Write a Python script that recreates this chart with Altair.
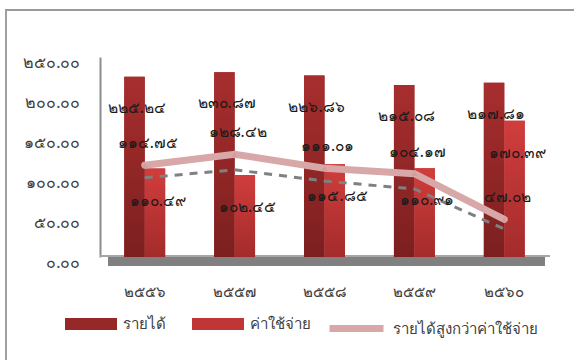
import altair as alt
import pandas as pd

years = ["๒๕๕๖", "๒๕๕๗", "๒๕๕๘", "๒๕๕๙", "๒๕๖๐"]
revenue = [225.24, 230.87, 226.86, 215.08, 217.81]
expense = [110.49, 102.45, 115.85, 110.91, 170.39]
surplus = [114.75, 128.42, 111.01, 104.17, 47.02]
trend = [99, 109, 95, 85, 35]

S_REV = "รายได้"
S_EXP = "ค่าใช้จ่าย"
S_SUR = "รายได้สูงกว่าค่าใช้จ่าย"

TH = str.maketrans("0123456789", "๐๑๒๓๔๕๖๗๘๙")


def th(v):
    return f"{v:.2f}".translate(TH)


rows = []
for y, r, e in zip(years, revenue, expense):
    rows.append({"year": y, "series": S_REV, "value": r, "label": th(r)})
    rows.append({"year": y, "series": S_EXP, "value": e, "label": th(e)})
bars_df = pd.DataFrame(rows)
line_df = pd.DataFrame({
    "year": years,
    "series": [S_SUR] * len(years),
    "value": surplus,
    "label": [th(v) for v in surplus],
})
trend_df = pd.DataFrame({"year": years, "value": trend})

FONT = "Noto Sans"
xenc = alt.X("year:N", sort=years,
             scale=alt.Scale(paddingInner=0.545, paddingOuter=0.27),
             axis=alt.Axis(title=None, labelAngle=0, ticks=False, domain=False,
                           labelPadding=27, labelFontSize=15, labelColor="#404040",
                           labelFont=FONT))
yscale = alt.Scale(domain=[0, 250], nice=False)
label_expr = "format(datum.value, '.2f')"
for d, t in zip("0123456789", "๐๑๒๓๔๕๖๗๘๙"):
    label_expr = f"replace({label_expr}, regexp('{d}', 'g'), '{t}')"
yaxis = alt.Axis(title=None, values=[0, 50, 100, 150, 200, 250], grid=False,
                 ticks=False, domainColor="#8c8c8c", domainWidth=2,
                 labelPadding=20, labelFontSize=16, labelColor="#404040",
                 labelFont=FONT, labelOffset=5, labelExpr=label_expr)
yenc = alt.Y("value:Q", scale=yscale, axis=yaxis)
xoff = alt.XOffset("series:N", sort=[S_REV, S_EXP],
                   scale=alt.Scale(domain=[S_REV, S_EXP], paddingInner=0, paddingOuter=0))

base_bars = alt.Chart(bars_df)

legend_bars = base_bars.mark_bar().encode(
    x=xenc, y=yenc, xOffset=xoff,
    fill=alt.Fill("series:N", sort=[S_REV, S_EXP],
                  scale=alt.Scale(domain=[S_REV, S_EXP], range=["#962828", "#c03636"]),
                  legend=alt.Legend(title=None, orient="none", legendX=-35, legendY=241,
                                    direction="horizontal",
                                    symbolType="M-1,-0.23H1V0.23H-1Z", symbolSize=2704,
                                    symbolStrokeWidth=0,
                                    labelFontSize=15, labelFont=FONT, labelColor="#404040",
                                    labelOffset=6, columnPadding=26)),
)


def grad(top, bottom):
    return alt.Gradient(gradient="linear",
                        stops=[alt.GradientStop(color=top, offset=0),
                               alt.GradientStop(color=bottom, offset=1)],
                        x1=0, x2=0, y1=0, y2=1)


rev_bars = base_bars.transform_filter(alt.datum.series == S_REV).mark_bar(
    color=grad("#a82e2e", "#7c1f1f")).encode(x=xenc, y=yenc, xOffset=xoff)
exp_bars = base_bars.transform_filter(alt.datum.series == S_EXP).mark_bar(
    color=grad("#d13d3d", "#a42b2b")).encode(x=xenc, y=yenc, xOffset=xoff)

rev_text = base_bars.transform_filter(alt.datum.series == S_REV).mark_text(
    dx=-8, dy=31, fontSize=15.5, font=FONT, color="#1a1a1a").encode(
    x=xenc, y=yenc, text="label:N")
exp_text = base_bars.transform_filter(alt.datum.series == S_EXP).mark_text(
    dx=13, dy=32, fontSize=15.5, font=FONT, color="#1a1a1a").encode(
    x=xenc, y=yenc, text="label:N")

trend_line = alt.Chart(trend_df).mark_line(color="#808080", strokeWidth=3,
                                           strokeDash=[8, 7]).encode(x=xenc, y=yenc)

base_line = alt.Chart(line_df)
sur_line = base_line.mark_line(strokeWidth=7, strokeCap="round").encode(
    x=xenc, y=yenc,
    stroke=alt.Stroke("series:N",
                      scale=alt.Scale(domain=[S_SUR], range=["#d8a7a7"]),
                      legend=alt.Legend(title=None, orient="none", legendX=226, legendY=241,
                                        symbolType="stroke", symbolSize=2916,
                                        symbolStrokeWidth=7,
                                        labelFontSize=15, labelFont=FONT,
                                        labelColor="#404040", labelOffset=6)),
)
sur_pts = base_line.mark_point(shape="triangle-up", size=30, filled=True,
                               color="#c99a9a").encode(x=xenc, y=yenc)
sur_text = base_line.mark_text(dx=3, dy=-22, fontSize=15.5, font=FONT,
                               color="#1a1a1a").encode(x=xenc, y=yenc, text="label:N")

floor = alt.Chart(trend_df).mark_rect(color="#808080").encode(
    x=alt.value(8), x2=alt.value(445), y=alt.value(200), y2=alt.value(209))
baseline = alt.Chart(trend_df).mark_rule(color="#a6a6a6", strokeWidth=2).encode(
    x=alt.value(0), x2=alt.value(450), y=alt.value(199), y2=alt.value(199))
frame_top = alt.Chart(trend_df).mark_rule(color="#999999", strokeWidth=2).encode(
    x=alt.value(-95), x2=alt.value(474), y=alt.value(-47), y2=alt.value(-47))
frame_left = alt.Chart(trend_df).mark_rule(color="#a0a0a0", strokeWidth=2).encode(
    x=alt.value(-94), x2=alt.value(-94), y=alt.value(-47), y2=alt.value(303))

chart = alt.layer(
    frame_top, frame_left, floor, baseline,
    legend_bars, rev_bars, exp_bars,
    trend_line, sur_line, sur_pts,
    rev_text, exp_text, sur_text,
).resolve_scale(fill="independent", stroke="independent").properties(
    width=449, height=200,
    autosize=alt.AutoSizeParams(type="none"),
    padding={"left": 100, "top": 57, "right": 25, "bottom": 103},
).configure_view(stroke=None)

chart.save("out.html", embed_options={"renderer": "svg", "actions": False})
